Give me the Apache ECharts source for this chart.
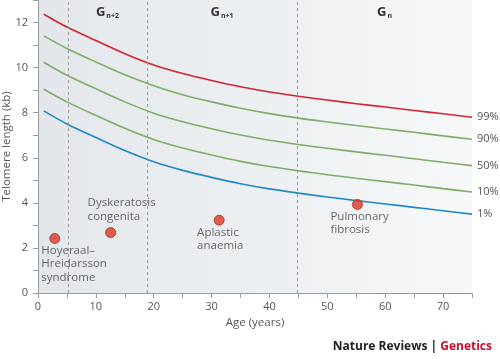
<!DOCTYPE html>
<html><head><meta charset="utf-8">
<script src="https://cdn.jsdelivr.net/npm/echarts@6/dist/echarts.min.js"></script>
<style>html,body{margin:0;padding:0;background:#fff;}#c{width:500px;height:359px;}</style>
</head><body><div id="c"></div>
<script>
var ages = [1, 5, 10, 15, 20, 25, 30, 35, 40, 45, 50, 55, 60, 65, 70, 75];
var p99 = [12.37, 11.8, 11.2, 10.62, 10.12, 9.74, 9.43, 9.15, 8.92, 8.73, 8.56, 8.4, 8.25, 8.1, 7.95, 7.8];
var p90 = [11.41, 10.85, 10.25, 9.68, 9.2, 8.8, 8.48, 8.2, 7.96, 7.76, 7.59, 7.43, 7.28, 7.13, 6.97, 6.82];
var p50 = [10.24, 9.66, 9.06, 8.48, 7.98, 7.6, 7.29, 7.01, 6.78, 6.59, 6.42, 6.26, 6.11, 5.96, 5.8, 5.65];
var p10 = [9.04, 8.48, 7.88, 7.31, 6.81, 6.43, 6.12, 5.84, 5.61, 5.42, 5.25, 5.09, 4.94, 4.79, 4.63, 4.48];
var p1  = [8.08, 7.5, 6.9, 6.32, 5.82, 5.44, 5.13, 4.85, 4.62, 4.43, 4.26, 4.1, 3.95, 3.8, 3.65, 3.5];
var percentileNames = ['99%', '90%', '50%', '10%', '1%'];

var diseaseNames = ['Hoyeraal–\nHreidarsson\nsyndrome', 'Dyskeratosis\ncongenita', 'Aplastic\nanaemia', 'Pulmonary\nfibrosis'];
var diseaseAges = [2.9, 12.55, 31.3, 55.2];
var diseaseLengths = [2.42, 2.68, 3.23, 3.93];

var generationBounds = [0, 5.2, 18.8, 44.8, 75];
var generationLabels = ['', 'G{s|n+2}', 'G{s|n+1}', 'G{s|n}'];

var xTicks = [0, 10, 20, 30, 40, 50, 60, 70];
var yTicks = [0, 2, 4, 6, 8, 10, 12];

var FONT = '"Open Sans", "Noto Sans", sans-serif';
var chart = echarts.init(document.getElementById('c'), null, {renderer: 'canvas'});

function pairs(vals) { return ages.map(function (a, i) { return [a, vals[i]]; }); }
var lineColors = ['#d52330', '#7ead66', '#7ead66', '#7ead66', '#2089c4'];
var curves = [p99, p90, p50, p10, p1];

var labelCfg = [
  {position: [-8, 11], verticalAlign: 'top'},
  {position: [-17.5, -4], verticalAlign: 'bottom'},
  {position: [-16.5, 11], verticalAlign: 'top'},
  {position: [-21.5, 11], verticalAlign: 'top'}
];

var series = curves.map(function (vals, k) {
  return {
    type: 'line', name: percentileNames[k], data: pairs(vals), smooth: 0.3,
    symbol: 'none', lineStyle: {color: lineColors[k], width: 1.6},
    z: 3,
    endLabel: {show: true, formatter: percentileNames[k], color: '#555', fontSize: 11, fontFamily: FONT, distance: 5},
    emphasis: {disabled: true}
  };
});

series.push({
  type: 'line', data: [], symbol: 'none', silent: true,
  markLine: {
    silent: true, symbol: 'none', label: {show: false},
    lineStyle: {color: '#9a9a9a', type: [3, 3], width: 1},
    data: generationBounds.slice(1, 4).map(function (b) { return {xAxis: b}; })
  },
  markArea: {
    silent: true, itemStyle: {color: 'rgba(0,0,0,0)'},
    label: {
      show: true, position: 'insideTop', distance: 6,
      formatter: function (p) { return p.name; },
      rich: {s: {fontSize: 7, fontWeight: 'bold', color: '#333', fontFamily: FONT, padding: [6, 0, 0, 1]}},
      fontSize: 13, fontWeight: 'bold', color: '#333', fontFamily: FONT
    },
    data: [1, 2, 3].map(function (i) {
      return [{name: generationLabels[i], xAxis: generationBounds[i]}, {xAxis: generationBounds[i + 1]}];
    })
  }
});

series.push({
  type: 'scatter', z: 5,
  data: diseaseAges.map(function (a, i) {
    return {
      value: [a, diseaseLengths[i]], name: diseaseNames[i],
      label: Object.assign({show: true, formatter: diseaseNames[i], align: 'left',
        color: '#444', fontSize: 11.5, lineHeight: 13.5, fontFamily: FONT}, labelCfg[i])
    };
  }),
  symbolSize: 10,
  itemStyle: {color: '#db3a26', borderColor: '#b02a1a', borderWidth: 1},
  emphasis: {disabled: true}
});

chart.setOption({
  animation: false,
  backgroundColor: '#ffffff',
  grid: {
    left: 38, right: 28, top: 0, bottom: 66, show: true, borderWidth: 0,
    containLabel: false, outerBoundsMode: 'none',
    backgroundColor: new echarts.graphic.LinearGradient(0, 0, 1, 0, [
      {offset: 0, color: '#e3e7eb'}, {offset: 1, color: '#f6f8f9'}
    ])
  },
  title: {
    text: '{a|Nature Reviews | }{b|Genetics}', right: 3, bottom: 1,
    textStyle: {rich: {
      a: {fontSize: 12, fontWeight: 'bold', color: '#222', fontFamily: FONT},
      b: {fontSize: 12, fontWeight: 'bold', color: '#c8102e', fontFamily: FONT}
    }}
  },
  xAxis: {
    type: 'value', min: 0, max: 75, interval: 5,
    name: 'Age (years)', nameLocation: 'middle', nameGap: 24, nameMoveOverlap: false,
    nameTextStyle: {fontSize: 11.5, color: '#555', fontFamily: FONT},
    axisLine: {show: true, lineStyle: {color: '#9a9a9a'}},
    axisTick: {show: true, length: 5, lineStyle: {color: '#9a9a9a'}},
    axisLabel: {margin: 8, fontSize: 11, color: '#555', fontFamily: FONT,
      formatter: function (v) { return xTicks.indexOf(v) >= 0 ? String(v) : ''; }},
    splitLine: {show: false}
  },
  yAxis: {
    type: 'value', min: 0, max: 13, interval: 1,
    name: 'Telomere length (kb)', nameLocation: 'middle', nameGap: 25, nameMoveOverlap: false,
    nameTextStyle: {fontSize: 11.5, color: '#555', fontFamily: FONT},
    axisLine: {show: true, lineStyle: {color: '#9a9a9a'}},
    axisTick: {show: true, length: 5, lineStyle: {color: '#9a9a9a'}},
    axisLabel: {margin: 10, fontSize: 11, color: '#555', fontFamily: FONT,
      formatter: function (v) { return yTicks.indexOf(v) >= 0 ? String(v) : ''; }},
    splitLine: {show: false}
  },
  series: series
});
</script></body></html>
